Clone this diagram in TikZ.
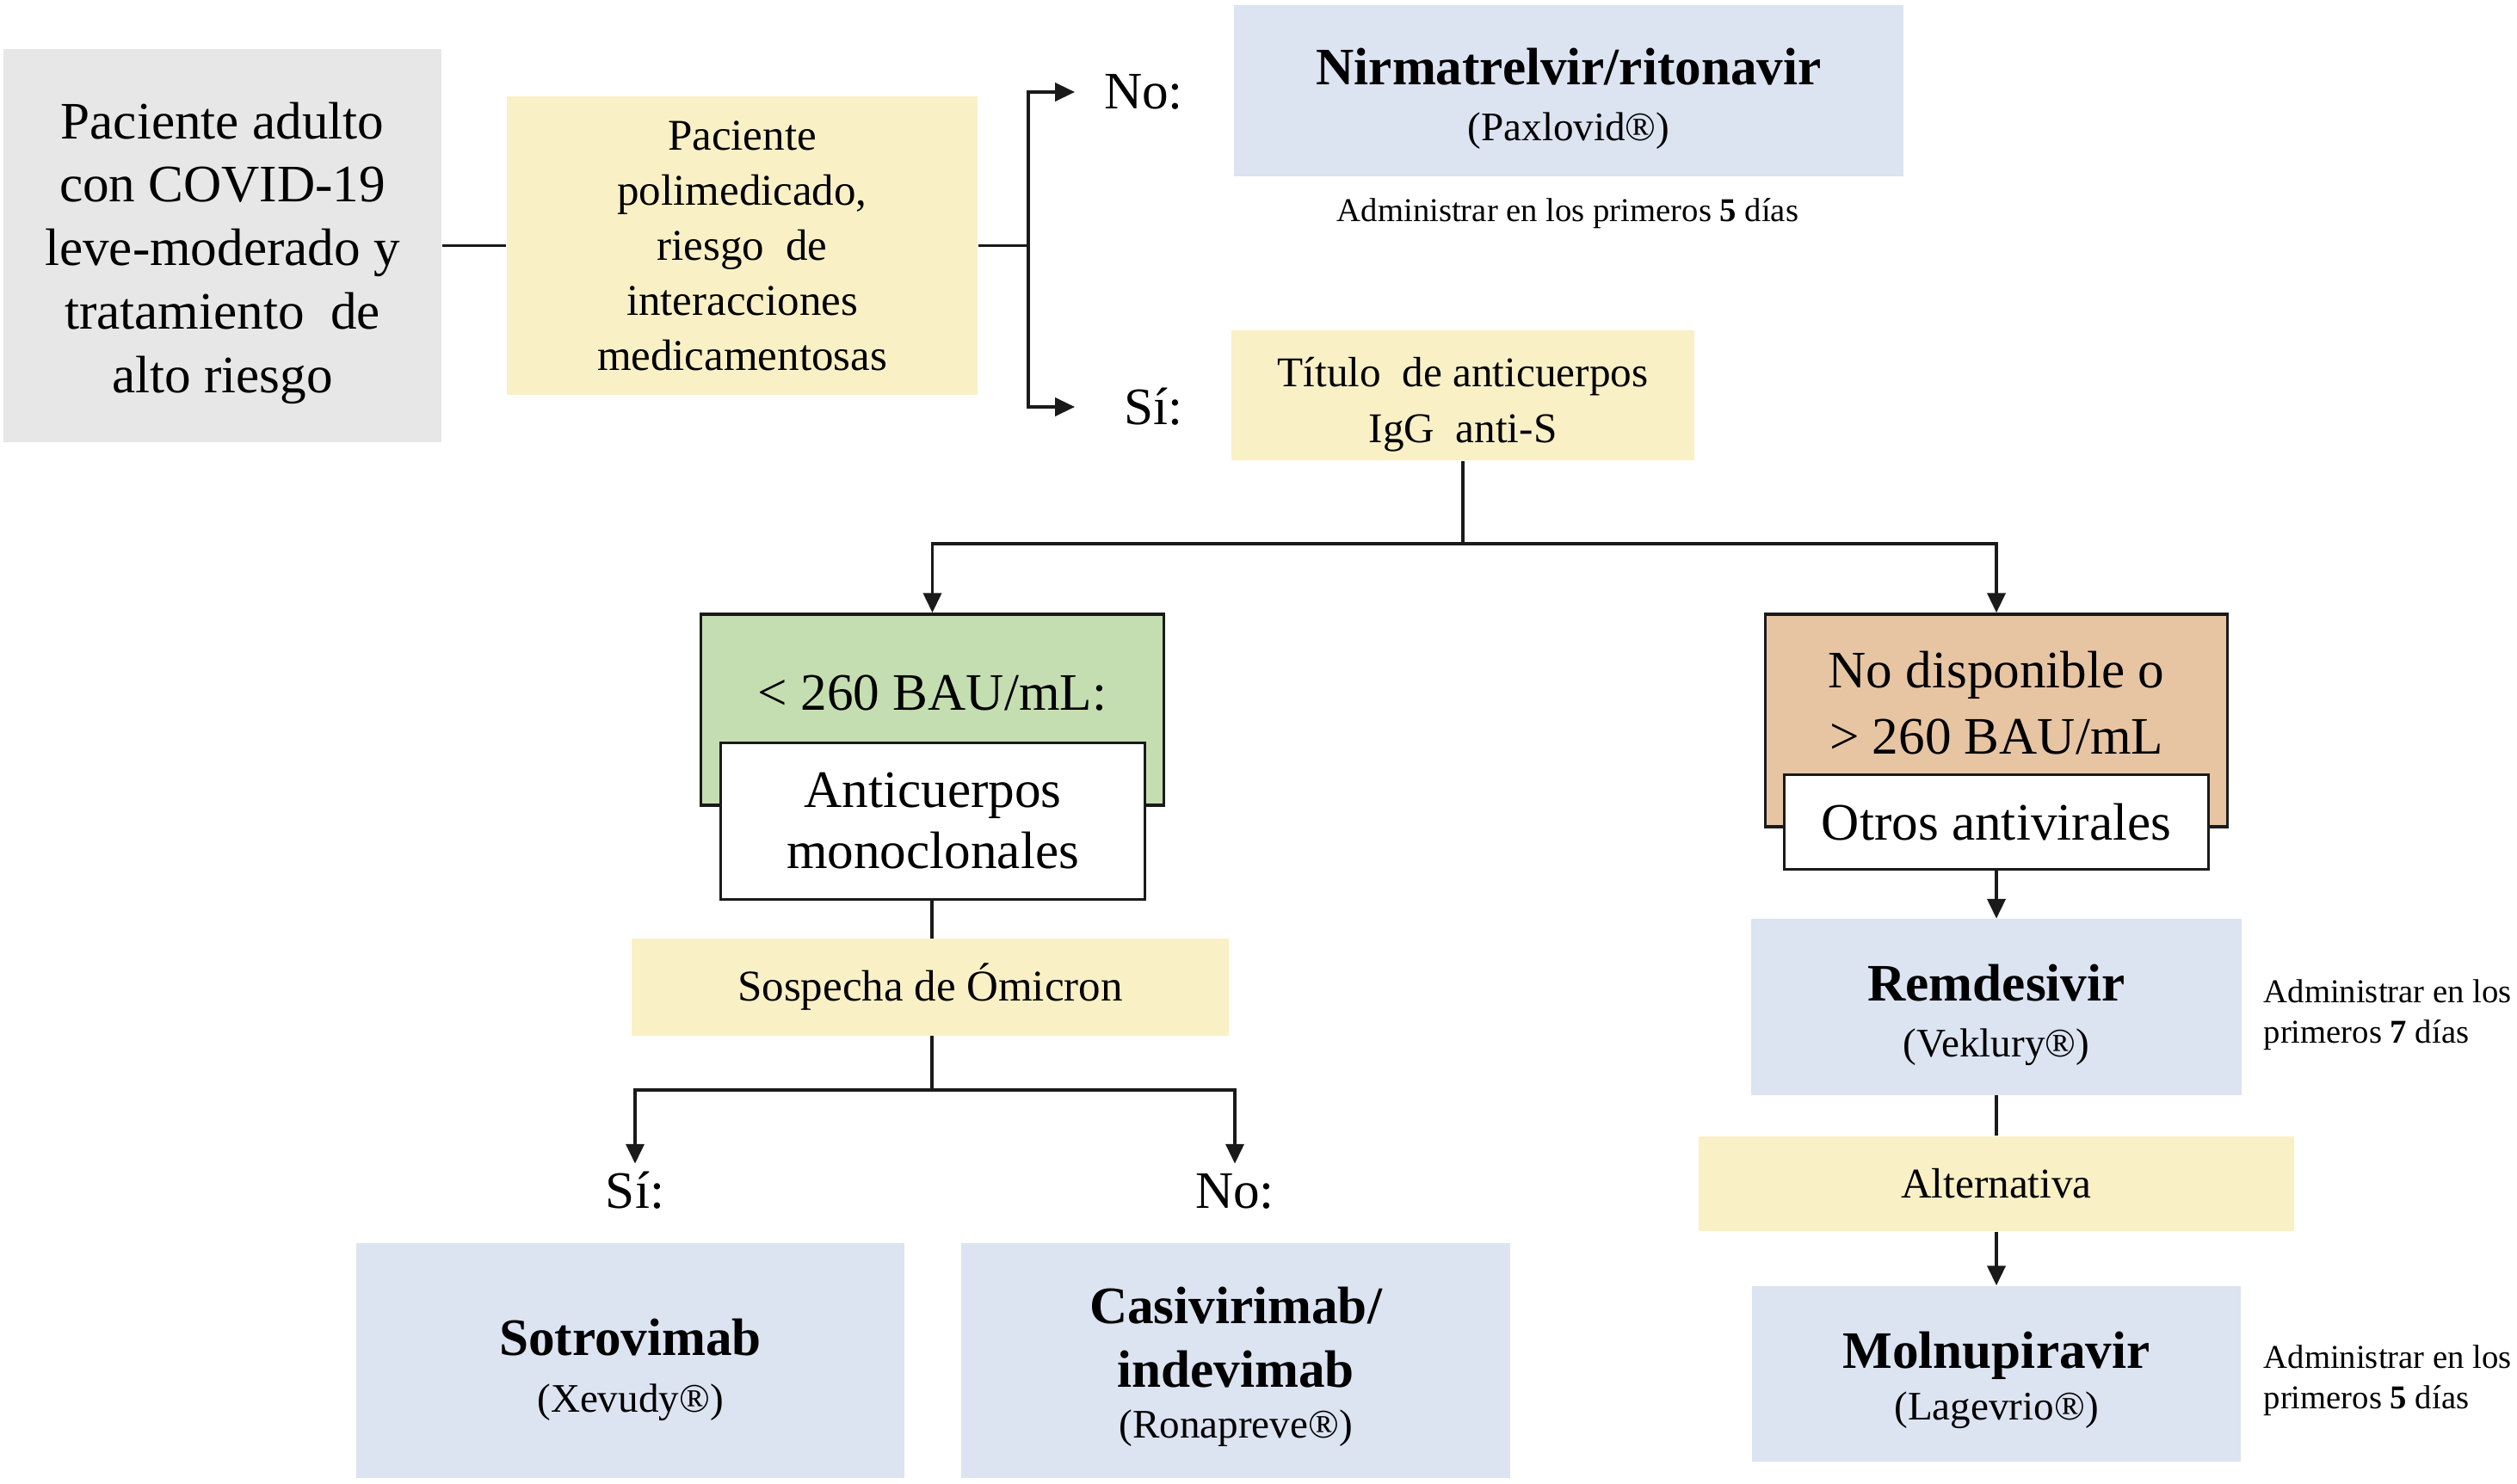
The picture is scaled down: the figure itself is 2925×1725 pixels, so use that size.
\documentclass[tikz,border=0pt]{standalone}
\usepackage{fontspec}
\setmainfont{Liberation Serif}
\usetikzlibrary{arrows.meta}
\definecolor{cgray}{HTML}{E7E7E7}
\definecolor{cyel}{HTML}{F9F0C6}
\definecolor{cblue}{HTML}{DCE3F1}
\definecolor{cgreen}{HTML}{C5DEB1}
\definecolor{cpeach}{HTML}{E7C5A3}
\definecolor{cline}{HTML}{1A1A1A}
\newcommand\fBig{\fontsize{17.4}{21}\selectfont}
\newcommand\fMid{\fontsize{14.5}{18.2}\selectfont}
\newcommand\fTit{\fontsize{14}{18.5}\selectfont}
\newcommand\fBrand{\fontsize{13.4}{18.5}\selectfont\mdseries}
\newcommand\fNote{\fontsize{11}{13.4}\selectfont}
\begin{document}
\begin{tikzpicture}[x=0.01cm,y=-0.01cm,
  box/.style={inner sep=0pt, align=center},
  outl/.style={draw=cline, line width=1pt},
  ln/.style={draw=cline, line width=1pt},
  arr/.style={draw=cline, line width=1pt, -{Triangle[length=6.5pt,width=6pt]}},
  lblR/.style={anchor=west, inner xsep=0pt, inner ysep=0pt, text width=1.25cm, align=right, font=\fBig},
  lblB/.style={inner xsep=0pt, inner ysep=7.5pt, text height=0.7em, text depth=0pt, font=\fBig},
  note/.style={inner sep=0pt, align=left, font=\fNote}]
\useasboundingbox (0,0) rectangle (2925,1725);

% top row
\node[box, fill=cgray, minimum width=5.09cm, minimum height=4.57cm, font=\fBig] (gray) at (258.5,285.5)
  {\rule{0pt}{17pt}Paciente adulto\\con COVID-19\\leve-moderado y\\tratamiento\ \ de\\alto riesgo};
\node[box, fill=cyel, minimum width=5.47cm, minimum height=3.47cm, font=\fMid] (yel1) at (862.5,285.5)
  {Paciente\\polimedicado,\\riesgo\ \ de\\interacciones\\medicamentosas};
\node[box, fill=cblue, minimum width=7.78cm, minimum height=1.99cm, font=\fontsize{17.4}{18.5}\selectfont] (nir) at (1823,105.5)
  {\rule{0pt}{17.4pt}{\bfseries Nirmatrelvir/ritonavir}\\{\fBrand (Paxlovid®)}};
\node[inner sep=0pt, anchor=base, font=\fNote] (adm1) at (1822,258)
  {Administrar en los primeros \textbf{5} días};
\node[box, fill=cyel, minimum width=5.38cm, minimum height=1.51cm, font=\fTit] (tit) at (1700,459.5)
  {\rule{0pt}{16pt}Título\ \ de anticuerpos\\IgG\ \ anti-S};
\node[lblR] (no1) at (1249,107) {No:};
\node[lblR] (si1) at (1249,473) {Sí:};

% left branch
\node[box, fill=cgreen, outl, minimum width=5.38cm, minimum height=2.22cm] (green) at (1083.5,825) {};
\node[inner sep=0pt, anchor=base, font=\fBig] (greentxt) at (1083.5,825) {< 260 BAU/mL:};
\node[box, fill=white, outl, minimum width=4.93cm, minimum height=1.82cm, font=\fontsize{17.4}{20.2}\selectfont] (anti) at (1084,954.5)
  {Anticuerpos\\monoclonales};
\node[box, fill=cyel, minimum width=6.93cm, minimum height=1.12cm, font=\fMid] (sos) at (1081,1147.5)
  {Sospecha de Ómicron};
\node[lblB] (si2) at (738,1392) {Sí:};
\node[lblB] (no2) at (1435,1392) {No:};
\node[box, fill=cblue, minimum width=6.37cm, minimum height=2.73cm, font=\fontsize{17.4}{19}\selectfont] (sot) at (732.5,1581.5)
  {\rule{0pt}{18.2pt}{\bfseries Sotrovimab}\\{\fBrand (Xevudy®)}};
\node[box, fill=cblue, minimum width=6.38cm, minimum height=2.73cm, font=\fontsize{17.4}{17}\selectfont] (cas) at (1436,1581.5)
  {\rule{0pt}{16.4pt}{\bfseries Casivirimab/}\\[3.8pt]{\bfseries indevimab}\\{\fBrand (Ronapreve®)}};

% right branch
\node[box, fill=cpeach, outl, minimum width=5.37cm, minimum height=2.47cm] (brown) at (2320,837.5) {};
\node[box, font=\fontsize{17.4}{21.9}\selectfont] (browntxt) at (2320,817) {No disponible o\\> 260 BAU/mL};
\node[box, fill=white, outl, minimum width=4.93cm, minimum height=1.10cm, font=\fBig] (otros) at (2320,955.5)
  {Otros antivirales};
\node[box, fill=cblue, minimum width=5.70cm, minimum height=2.04cm, font=\fontsize{17.4}{18.5}\selectfont] (rem) at (2320,1170.5)
  {\rule{0pt}{17.4pt}{\bfseries Remdesivir}\\{\fBrand (Veklury®)}};
\node[box, fill=cyel, minimum width=6.92cm, minimum height=1.10cm, font=\fTit] (alt) at (2320,1376)
  {Alternativa};
\node[box, fill=cblue, minimum width=5.67cm, minimum height=2.04cm, font=\fontsize{17.4}{17}\selectfont] (mol) at (2320,1597)
  {\rule{0pt}{16.2pt}{\bfseries Molnupiravir}\\{\fBrand (Lagevrio®)}};
\node[note, anchor=west] (adm2) at (2630,1180) {Administrar en los\\primeros \textbf{7} días};
\node[note, anchor=west] (adm3) at (2630,1605) {Administrar en los\\primeros \textbf{5} días};

% connectors
\coordinate (j1) at (1195,285.5);
\coordinate (j2) at (1700,632);
\coordinate (j3) at (1083,1267);
\draw[ln] (gray.east) -- (yel1.west);
\draw[ln] (yel1.east) -- (j1);
\draw[arr] (j1) |- (no1.west);
\draw[arr] (j1) |- (si1.west);
\draw[ln] (tit.south) -- (j2);
\draw[arr] (j2) -| (green.north);
\draw[arr] (j2) -| (brown.north);
\draw[ln] (anti.south -| j3) -- (sos.north -| j3);
\draw[ln] (sos.south -| j3) -- (j3);
\draw[arr] (j3) -| (si2.north);
\draw[arr] (j3) -| (no2.north);
\draw[arr] (otros.south) -- (rem.north);
\draw[ln] (rem.south) -- (alt.north);
\draw[arr] (alt.south) -- (mol.north);
\end{tikzpicture}
\end{document}
